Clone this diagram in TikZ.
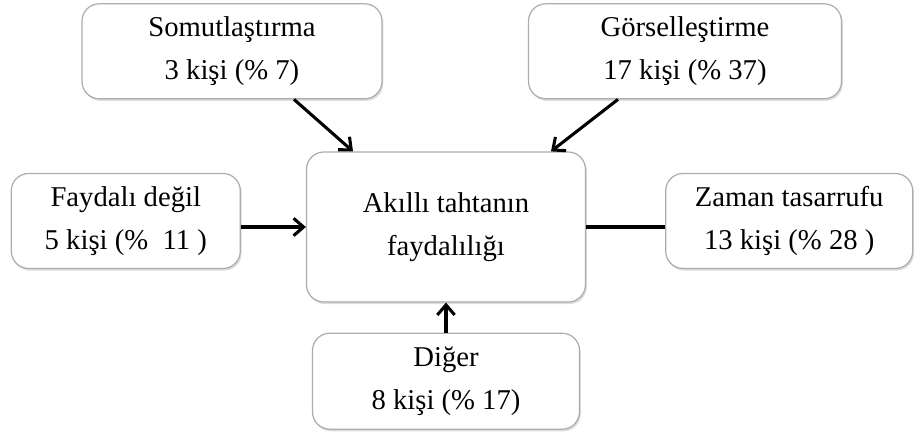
\documentclass[tikz,border=0pt]{standalone}
\usepackage{fontspec}
\setmainfont{Liberation Serif}
\usetikzlibrary{arrows.meta, positioning, shadows}
\tikzset{
  box/.style={rectangle, draw=gray!65, line width=0.9pt, rounded corners=13pt,
              fill=white, align=center, minimum height=71.25pt,
              drop shadow={shadow xshift=1pt, shadow yshift=-1.6pt, fill=gray!45, opacity=0.6},
              font=\fontsize{21.5}{32}\selectfont},
  hub/.style={box, minimum width=209.25pt, minimum height=112.5pt},
  arr/.style={-{Straight Barb[length=7.5pt, width=13pt, line width=2.3pt]}, line width=2.3pt},
  link/.style={line width=2.3pt},
}

\begin{document}
\begin{tikzpicture}
  \useasboundingbox (-334.5pt,170.25pt) rectangle (351pt,-153.75pt);
  \node[hub] (center) {Akıllı tahtanın\\faydalılığı};
  \node[box, minimum width=225pt, above=39pt of center, xshift=-160.5pt] (somut) {Somutlaştırma\\3 kişi (\% 7)};
  \node[box, minimum width=234.75pt, above=39pt of center, xshift=179.25pt] (gorsel) {Görselleştirme\\17 kişi (\% 37)};
  \node[box, minimum width=171.75pt, left=48.75pt of center, yshift=4.5pt] (faydasiz) {Faydalı değil\\5 kişi (\%~~11 )};
  \node[box, minimum width=185.25pt, right=59.25pt of center, yshift=4.5pt] (zaman) {Zaman tasarrufu\\13 kişi (\% 28 )};
  \node[box, minimum width=200.25pt, minimum height=72pt, below=22.5pt of center] (diger) {Diğer\\8 kişi (\% 17)};
  % baglantilar
  \draw[arr] ([xshift=46.5pt]somut.south) -- ([xshift=-69.75pt]center.north);
  \draw[arr] ([xshift=-50.25pt]gorsel.south) -- ([xshift=78.75pt]center.north);
  \draw[arr] (center.west -| faydasiz.east) -- (center.west);
  \draw[link] (center.east) -- (center.east -| zaman.west);
  \draw[arr] (diger.north) -- (diger.north |- center.south);
\end{tikzpicture}
\end{document}
